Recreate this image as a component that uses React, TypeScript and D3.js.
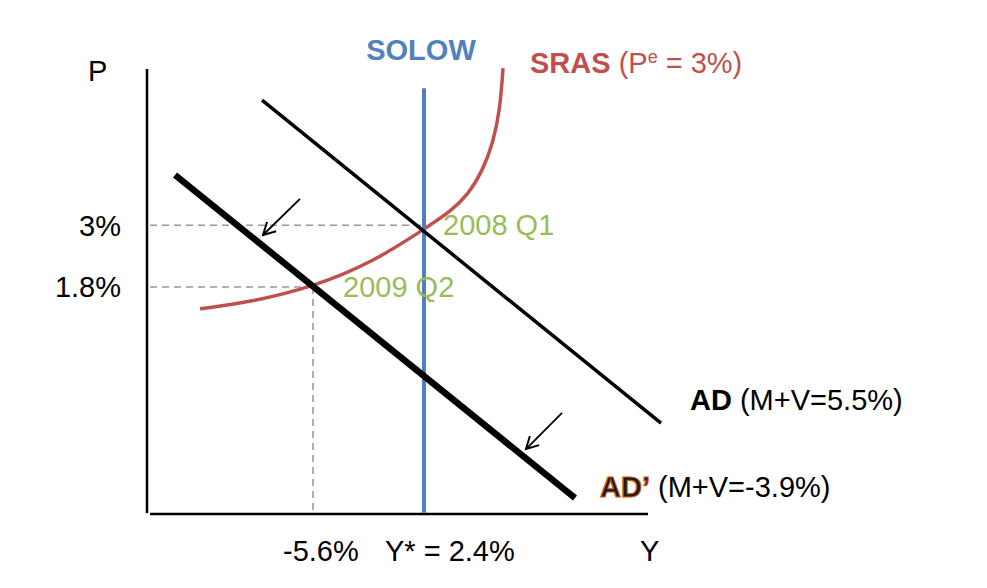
import React from 'react';
import * as d3 from 'd3';

// abstract diagram units: Y (output) 0..10, P (inflation) 0..10
const sras: [number, number][] = [
  [1.04, 4.61], [2.04, 4.76], [3.3, 5.1], [4.5, 5.66], [5.52, 6.4], [5.7, 6.54],
  [6.04, 6.8], [6.38, 7.14], [6.7, 7.73], [6.9, 8.34], [7.04, 9.08], [7.1, 10.02],
];
const adLine: [number, number][] = [[2.28, 9.3], [10.26, 2.04]];
const adPrimeLine: [number, number][] = [[0.54, 7.62], [8.54, 0.36]];
const solowX = 5.52;
const solowRange = [0.02, 9.57];
const arrows: [number, number][][] = [
  [[3.04, 7.08], [2.3, 6.27]],
  [[8.28, 2.27], [7.56, 1.46]],
];
const pTicks = [
  { label: '3%', value: 6.49 },
  { label: '1.8%', value: 5.1 },
];
const yLowX = 3.3;
const yLowLabel = '-5.6%';
const yStarLabel = 'Y* = 2.4%';

const W = 987;
const H = 588;
const FONT = '"Liberation Sans", Arial, Helvetica, sans-serif';

const x = d3.scaleLinear().domain([0, 10]).range([148, 648]);
const y = d3.scaleLinear().domain([0, 10]).range([514, 69]);

const line = d3.line<[number, number]>().x(d => x(d[0])).y(d => y(d[1]));
const curve = d3.line<[number, number]>()
  .x(d => x(d[0]))
  .y(d => y(d[1]))
  .curve(d3.curveBasis);

export default function App() {
  const dash = '7,5';
  const grey = '#9a9a9a';
  return (
    <svg width={W} height={H} style={{ position: 'absolute', left: 0, top: 0, background: '#fff' }}
      fontFamily={FONT}>
      <defs>
        <marker id="open-head" viewBox="0 0 16 16" markerWidth={16} markerHeight={16}
          refX={14} refY={8} orient="auto" markerUnits="userSpaceOnUse">
          <path d="M2,1.5 L14,8 L2,14.5" fill="none" stroke="#000" strokeWidth={2} />
        </marker>
      </defs>

      {/* axes */}
      <line x1={x(-0.02)} x2={x(-0.02)} y1={y(10)} y2={y(0.02)} stroke="#000" strokeWidth={2.5} />
      <line x1={x(0.04)} x2={x(10)} y1={y(0)} y2={y(0)} stroke="#000" strokeWidth={2.5} />

      {/* dashed guides */}
      <line x1={x(0.04)} x2={x(solowX)} y1={y(pTicks[0].value)} y2={y(pTicks[0].value)}
        stroke={grey} strokeWidth={1.6} strokeDasharray={dash} />
      <line x1={x(0.04)} x2={x(yLowX)} y1={y(pTicks[1].value)} y2={y(pTicks[1].value)}
        stroke={grey} strokeWidth={1.6} strokeDasharray={dash} />
      <line x1={x(yLowX)} x2={x(yLowX)} y1={y(pTicks[1].value)} y2={y(0.02)}
        stroke={grey} strokeWidth={1.6} strokeDasharray={dash} />

      {/* curves */}
      <path d={curve(sras) || ''} fill="none" stroke="#c0504d" strokeWidth={3.5} />
      <line x1={x(solowX)} x2={x(solowX)} y1={y(solowRange[1])} y2={y(solowRange[0])}
        stroke="#4f81bd" strokeWidth={4} />
      <path d={line(adLine) || ''} fill="none" stroke="#000" strokeWidth={3.5} />
      <path d={line(adPrimeLine) || ''} fill="none" stroke="#000" strokeWidth={6.5} />

      {arrows.map((a, i) => (
        <path key={i} d={line(a) || ''} fill="none" stroke="#000" strokeWidth={1.8}
          markerEnd="url(#open-head)" />
      ))}

      {/* labels */}
      <g fontSize={29}>
        <text x={88} y={81} fill="#000">P</text>
        <text x={x(solowX) - 3} y={60} fill="#4f81bd" fontWeight="bold" textAnchor="middle">SOLOW</text>
        <text x={530} y={73} fill="#c0504d">
          <tspan fontWeight="bold">SRAS</tspan>
          <tspan> (P</tspan>
          <tspan fontSize={18} dy={-10}>e</tspan>
          <tspan dy={10}> = 3%)</tspan>
        </text>
        {pTicks.map(t => (
          <text key={t.label} x={121} y={y(t.value)} dy="0.36em" textAnchor="end" fill="#000">{t.label}</text>
        ))}
        <text x={x(solowX) + 19} y={235} fill="#9bbb59">2008 Q1</text>
        <text x={x(yLowX) + 30} y={297} fill="#9bbb59">2009 Q2</text>
        <text x={690} y={410} fill="#000">
          <tspan fontWeight="bold">AD</tspan>
          <tspan> (M+V=5.5%)</tspan>
        </text>
        <text x={600} y={497} fill="#000">
          <tspan fontWeight="bold" fill="#1a1a1a" stroke="#c55a11" strokeWidth={1.2}>AD’</tspan>
          <tspan> (M+V=-3.9%)</tspan>
        </text>
        <text x={283} y={561} fill="#000">{yLowLabel}</text>
        <text x={385} y={561} fill="#000">{yStarLabel}</text>
        <text x={640} y={561} fill="#000">Y</text>
      </g>
    </svg>
  );
}
